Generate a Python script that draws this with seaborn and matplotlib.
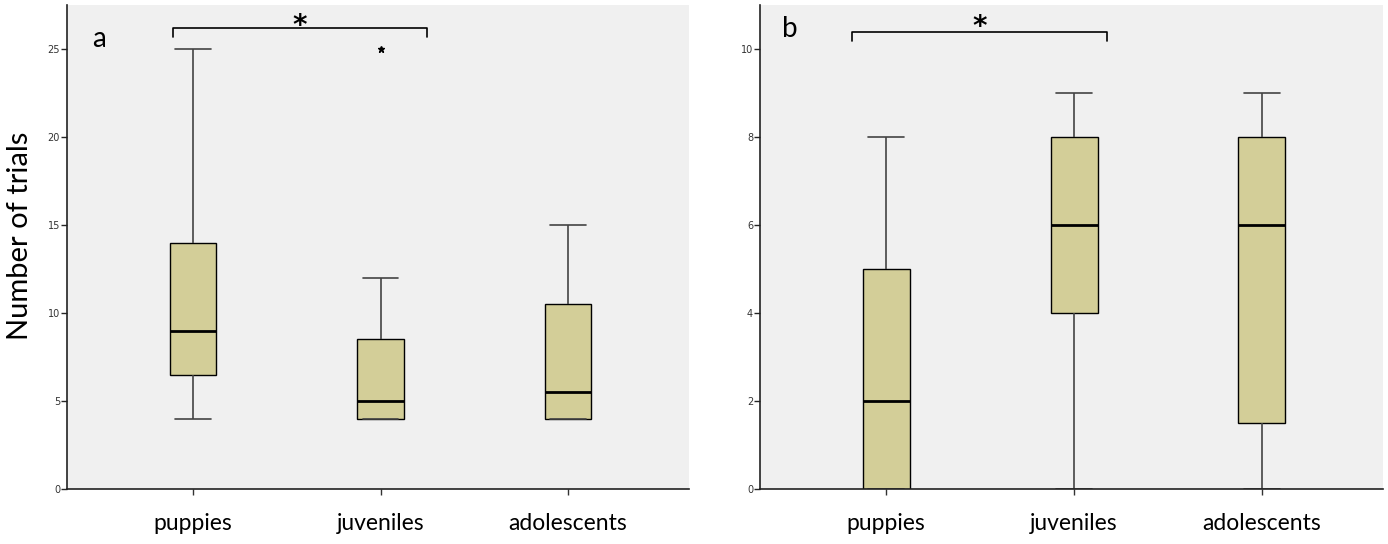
import numpy as np
import pandas as pd
import seaborn as sns
import matplotlib.pyplot as plt

groups = ["puppies", "juveniles", "adolescents"]
# panel a: number of trials (9 values per group, read from box stats)
a_puppies = [4, 5, 6.5, 8, 9, 12, 14, 20, 25]
a_juveniles = [4, 4, 4, 5, 5, 8, 8.5, 12, 25]
a_adolescents = [4, 4, 4, 5, 5.5, 8, 10.5, 13, 15]
# panel b
b_puppies = [0, 0, 0, 1, 2, 3, 5, 7, 8]
b_juveniles = [0, 2, 4, 5, 6, 7, 8, 9, 9]
b_adolescents = [0, 1, 1.5, 4, 6, 7, 8, 9, 9]

a_ticks = [0, 5, 10, 15, 20, 25]
b_ticks = [0, 2, 4, 6, 8, 10]


def long_df(vals):
    rows = []
    for g, v in zip(groups, vals):
        rows += [(g, x) for x in v]
    return pd.DataFrame(rows, columns=["group", "value"])


da = long_df([a_puppies, a_juveniles, a_adolescents])
db = long_df([b_puppies, b_juveniles, b_adolescents])

sns.set_style("white")
plt.rcParams["font.family"] = ["Lato", "DejaVu Sans"]
plt.rcParams["text.color"] = "black"
plt.rcParams["axes.labelcolor"] = "black"

fig = plt.figure(figsize=(13.88, 5.44), dpi=100)
ax1 = fig.add_axes([67 / 1388, 1 - 489 / 544, 622 / 1388, 484 / 544])
ax2 = fig.add_axes([760 / 1388, 1 - 489 / 544, 623 / 1388, 484 / 544])

box_kw = dict(x="group", y="value", order=groups, width=0.25, color="#D3CE98",
              linecolor="black", linewidth=1, saturation=1,
              medianprops=dict(color="black", linewidth=2),
              whiskerprops=dict(color="#444444", linewidth=1.2),
              capprops=dict(color="#444444", linewidth=1.2),
              flierprops=dict(marker="*", markersize=5, markerfacecolor="black",
                              markeredgecolor="black"),
              capwidths=0.19)

sns.boxplot(data=da, ax=ax1, **box_kw)
sns.boxplot(data=db, ax=ax2, **box_kw)

for ax, ylim, ticks in [(ax1, 27.5, a_ticks), (ax2, 11.0, b_ticks)]:
    ax.set_facecolor("#F0F0F0")
    ax.set_xlim(-0.672, 2.645)
    ax.set_ylim(0, ylim)
    ax.set_yticks(ticks)
    ax.set_xlabel("")
    ax.set_ylabel("")
    for s in ["top", "right"]:
        ax.spines[s].set_visible(False)
    for s in ["left", "bottom"]:
        ax.spines[s].set_color("#222222")
        ax.spines[s].set_linewidth(1.2)
    ax.tick_params(axis="y", length=4, width=1, pad=1, labelsize=7,
                   labelcolor="#333333", left=True, direction="out")
    ax.tick_params(axis="x", length=4, width=1, pad=13, labelsize=16.5,
                   bottom=True, direction="out", colors="#333333",
                   labelcolor="black")
    ax.set_yticklabels([str(t) for t in ticks], family="DejaVu Sans")

ax1.set_ylabel("Number of trials", fontsize=21)
ax1.yaxis.set_label_coords(-0.055, 0.523)

# significance brackets
ax1.plot([-0.107, -0.107, 1.248, 1.248], [25.7, 26.2, 26.2, 25.7], color="black", lw=1.2)
ax1.text(0.57, 25.85, "*", ha="center", va="baseline", fontsize=20,
         fontweight="bold", family="DejaVu Sans")
ax2.plot([-0.18, -0.18, 1.176, 1.176], [10.18, 10.39, 10.39, 10.18], color="black", lw=1.2)
ax2.text(0.5, 10.32, "*", ha="center", va="baseline", fontsize=20,
         fontweight="bold", family="DejaVu Sans")

ax1.text(0.04, 0.93, "a", transform=ax1.transAxes, fontsize=20, ha="left", va="center")
ax2.text(0.035, 0.95, "b", transform=ax2.transAxes, fontsize=20, ha="left", va="center")

fig.savefig("out.png", dpi=100, facecolor="white")
